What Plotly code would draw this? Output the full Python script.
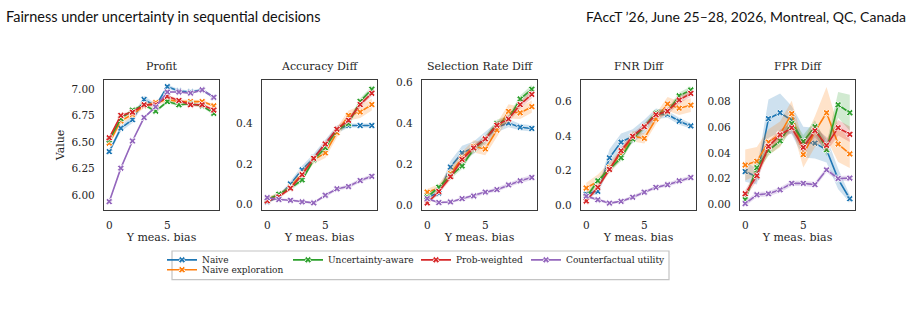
import plotly.graph_objects as go

W, H = 913, 314

X = list(range(10))
SERIES = ["Naive", "Naive exploration", "Uncertainty-aware", "Prob-weighted", "Counterfactual utility"]
COLORS = ["#1f77b4", "#ff7f0e", "#2ca02c", "#d62728", "#9467bd"]
FILLS = ["rgba(31,119,180,0.22)", "rgba(255,127,14,0.22)", "rgba(44,160,44,0.22)",
         "rgba(214,39,40,0.22)", "rgba(148,103,189,0.22)"]
PANEL_TITLES = ["Profit", "Accuracy Diff", "Selection Rate Diff", "FNR Diff", "FPR Diff"]

# ---- Profit ----
PROFIT = [
    [6.41, 6.63, 6.71, 6.90, 6.84, 7.02, 6.98, 6.97, 6.99, 6.92],
    [6.49, 6.70, 6.76, 6.84, 6.87, 6.90, 6.88, 6.88, 6.88, 6.84],
    [6.52, 6.72, 6.80, 6.85, 6.79, 6.88, 6.85, 6.86, 6.84, 6.77],
    [6.54, 6.75, 6.78, 6.85, 6.85, 6.93, 6.89, 6.85, 6.85, 6.80],
    [5.94, 6.255, 6.51, 6.73, 6.83, 6.97, 6.97, 6.96, 6.99, 6.92],
]
PROFIT_CI = [
    [0.02, 0.03, 0.03, 0.035, 0.02, 0.02, 0.015, 0.015, 0.015, 0.015],
    [0.02, 0.03, 0.03, 0.02, 0.02, 0.025, 0.02, 0.015, 0.015, 0.015],
    [0.015, 0.015, 0.015, 0.015, 0.015, 0.015, 0.015, 0.015, 0.015, 0.015],
    [0.015, 0.015, 0.015, 0.015, 0.015, 0.015, 0.015, 0.015, 0.015, 0.015],
    [0.01, 0.01, 0.01, 0.01, 0.01, 0.01, 0.01, 0.01, 0.01, 0.01],
]
# ---- Accuracy Diff ----
ACC = [
    [0.011, 0.036, 0.10, 0.17, 0.23, 0.30, 0.37, 0.39, 0.39, 0.39],
    [0.028, 0.044, 0.084, 0.15, 0.22, 0.254, 0.355, 0.44, 0.457, 0.494],
    [0.020, 0.049, 0.079, 0.12, 0.22, 0.28, 0.37, 0.40, 0.51, 0.57],
    [0.016, 0.036, 0.079, 0.146, 0.227, 0.298, 0.372, 0.416, 0.494, 0.55],
    [0.032, 0.023, 0.019, 0.011, 0.006, 0.044, 0.076, 0.087, 0.117, 0.138],
]
ACC_CI = [
    [0.005, 0.01, 0.015, 0.02, 0.02, 0.02, 0.02, 0.01, 0.01, 0.01],
    [0.01, 0.01, 0.015, 0.02, 0.02, 0.025, 0.025, 0.025, 0.03, 0.03],
    [0.01, 0.01, 0.01, 0.012, 0.012, 0.015, 0.015, 0.015, 0.015, 0.015],
    [0.01, 0.01, 0.01, 0.012, 0.012, 0.015, 0.015, 0.015, 0.015, 0.015],
    [0.006, 0.006, 0.006, 0.006, 0.006, 0.008, 0.008, 0.01, 0.01, 0.01],
]
# ---- Selection Rate Diff ----
SEL = [
    [0.040, 0.059, 0.186, 0.255, 0.28, 0.326, 0.38, 0.40, 0.38, 0.374],
    [0.064, 0.083, 0.154, 0.23, 0.287, 0.274, 0.366, 0.457, 0.45, 0.48],
    [0.040, 0.088, 0.143, 0.191, 0.274, 0.323, 0.398, 0.42, 0.517, 0.565],
    [0.011, 0.067, 0.139, 0.223, 0.279, 0.323, 0.39, 0.42, 0.49, 0.54],
    [0.032, 0.013, 0.016, 0.032, 0.045, 0.064, 0.076, 0.099, 0.119, 0.135],
]
SEL_CI = [
    [0.01, 0.015, 0.03, 0.035, 0.03, 0.03, 0.025, 0.02, 0.015, 0.015],
    [0.015, 0.02, 0.03, 0.03, 0.03, 0.03, 0.035, 0.035, 0.03, 0.03],
    [0.01, 0.012, 0.015, 0.015, 0.015, 0.015, 0.018, 0.018, 0.018, 0.02],
    [0.01, 0.012, 0.015, 0.015, 0.015, 0.015, 0.018, 0.018, 0.018, 0.02],
    [0.006, 0.006, 0.006, 0.007, 0.008, 0.008, 0.01, 0.01, 0.012, 0.012],
]
# ---- FNR Diff ----
FNR = [
    [0.066, 0.081, 0.275, 0.366, 0.40, 0.455, 0.53, 0.527, 0.487, 0.46],
    [0.100, 0.138, 0.218, 0.294, 0.40, 0.388, 0.50, 0.587, 0.5625, 0.58],
    [0.047, 0.142, 0.208, 0.275, 0.384, 0.455, 0.534, 0.54, 0.634, 0.668],
    [0.025, 0.104, 0.208, 0.316, 0.40, 0.455, 0.525, 0.545, 0.61, 0.648],
    [0.053, 0.032, 0.013, 0.023, 0.047, 0.076, 0.104, 0.119, 0.142, 0.161],
]
FNR_CI = [
    [0.01, 0.02, 0.05, 0.05, 0.04, 0.04, 0.03, 0.02, 0.02, 0.015],
    [0.03, 0.04, 0.03, 0.03, 0.03, 0.03, 0.03, 0.04, 0.04, 0.04],
    [0.015, 0.015, 0.015, 0.018, 0.018, 0.018, 0.02, 0.02, 0.02, 0.02],
    [0.015, 0.015, 0.015, 0.018, 0.018, 0.018, 0.02, 0.02, 0.02, 0.02],
    [0.008, 0.008, 0.008, 0.008, 0.01, 0.01, 0.01, 0.012, 0.012, 0.012],
]
# ---- FPR Diff ----
FPR = [
    [0.0255, 0.0214, 0.0667, 0.0713, 0.0655, 0.0484, 0.0476, 0.0425, 0.0196, 0.0043],
    [0.0306, 0.0336, 0.0484, 0.0545, 0.0706, 0.0387, 0.0566, 0.0713, 0.0469, 0.0392],
    [0.0036, 0.0285, 0.0418, 0.0494, 0.0629, 0.0490, 0.0604, 0.0425, 0.0775, 0.0713],
    [0.0082, 0.0222, 0.0451, 0.0540, 0.0596, 0.0443, 0.0573, 0.0459, 0.0596, 0.0545],
    [0.0005, 0.0074, 0.0082, 0.0112, 0.0163, 0.0163, 0.0153, 0.0268, 0.0201, 0.0204],
]
FPR_CI = [
    [0.008, 0.006, 0.015, 0.015, 0.011, 0.012, 0.012, 0.01, 0.008, 0.003],
    [0.012, 0.011, 0.01, 0.01, 0.01, 0.01, 0.012, 0.02, 0.014, 0.011],
    [0.003, 0.004, 0.004, 0.004, 0.005, 0.005, 0.005, 0.005, 0.01, 0.014],
    [0.003, 0.004, 0.004, 0.004, 0.004, 0.004, 0.005, 0.005, 0.006, 0.006],
    [0.002, 0.002, 0.002, 0.002, 0.002, 0.002, 0.002, 0.002, 0.002, 0.002],
]

PANEL_DATA = [(PROFIT, PROFIT_CI), (ACC, ACC_CI), (SEL, SEL_CI), (FNR, FNR_CI), (FPR, FPR_CI)]
Y_RANGES = [[5.86, 7.085], [-0.03, 0.617], [-0.024, 0.611], [-0.028, 0.727], [-0.0046, 0.097]]
Y_TICKS = [
    [6.00, 6.25, 6.50, 6.75, 7.00],
    [0.0, 0.2, 0.4],
    [0.0, 0.2, 0.4, 0.6],
    [0.0, 0.2, 0.4, 0.6],
    [0.00, 0.02, 0.04, 0.06, 0.08],
]
Y_TICKFMT = [".2f", ".1f", ".1f", ".1f", ".2f"]
X_TICKS = [0, 5]

# ---- layout geometry (pixels) ----
PANEL_LEFT = [104, 262, 422, 581, 740]
PANEL_W = 115
PLOT_TOP, PLOT_BOTTOM = 77, 209.5


def fx(p):
    return p / W


def fy(p):
    return 1 - p / H


SERIF = "DejaVu Serif"
TXT = "#262626"

fig = go.Figure()

LEGEND_IDS = ["legend", "legend5", "legend2", "legend3", "legend4"]

for k, (means, cis) in enumerate(PANEL_DATA):
    xa = "x" if k == 0 else f"x{k+1}"
    ya = "y" if k == 0 else f"y{k+1}"
    for s, name in enumerate(SERIES):
        m = means[s]
        c = cis[s]
        upper = [a + b for a, b in zip(m, c)]
        lower = [a - b for a, b in zip(m, c)]
        fig.add_trace(go.Scatter(
            x=X + X[::-1], y=upper + lower[::-1], fill="toself",
            fillcolor=FILLS[s], line=dict(width=0), mode="lines",
            hoverinfo="skip", showlegend=False, xaxis=xa, yaxis=ya))
        fig.add_trace(go.Scatter(
            x=X, y=m, mode="lines+markers", name=name,
            line=dict(color=COLORS[s], width=1.6),
            marker=dict(symbol="x", size=6, color=COLORS[s],
                        line=dict(color="white", width=0.9)),
            showlegend=(k == 0), legend=LEGEND_IDS[s],
            xaxis=xa, yaxis=ya))

layout = dict(
    width=W, height=H,
    margin=dict(l=0, r=0, t=0, b=0),
    paper_bgcolor="white", plot_bgcolor="white",
    font=dict(family=SERIF, size=10, color=TXT),
    annotations=[],
)

for k in range(5):
    xkey = "xaxis" if k == 0 else f"xaxis{k+1}"
    ykey = "yaxis" if k == 0 else f"yaxis{k+1}"
    xa = "x" if k == 0 else f"x{k+1}"
    ya = "y" if k == 0 else f"y{k+1}"
    left = PANEL_LEFT[k]
    layout[xkey] = dict(
        domain=[fx(left), fx(left + PANEL_W)], anchor=ya,
        range=[-0.45, 9.45], tickvals=X_TICKS, ticks="",
        showgrid=False, zeroline=False, showline=True, mirror=True,
        linecolor="#3a3a3a", linewidth=1.2,
        tickfont=dict(family=SERIF, size=10.5, color=TXT),
        ticklabelstandoff=5,
        title=dict(text="Y meas. bias", font=dict(family=SERIF, size=11, color=TXT), standoff=2),
    )
    layout[ykey] = dict(
        domain=[fy(PLOT_BOTTOM), fy(PLOT_TOP)], anchor=xa,
        range=Y_RANGES[k], tickvals=Y_TICKS[k], tickformat=Y_TICKFMT[k], ticks="",
        showgrid=False, zeroline=False, showline=True, mirror=True,
        linecolor="#3a3a3a", linewidth=1.2,
        tickfont=dict(family=SERIF, size=10.5, color=TXT),
        ticklabelstandoff=6,
    )
    if k == 0:
        layout[ykey]["title"] = dict(text="Value", font=dict(family=SERIF, size=11, color=TXT), standoff=4)
    layout["annotations"].append(dict(
        text=PANEL_TITLES[k], x=fx(left + PANEL_W / 2), y=fy(64),
        xref="paper", yref="paper", xanchor="center", yanchor="middle",
        showarrow=False, font=dict(family=SERIF, size=11, color=TXT)))

# header texts
HEADER_LEFT = "Fairness under uncertainty in sequential decisions"
HEADER_RIGHT = "FAccT \u201926, June 25\u201328, 2026, Montreal, QC, Canada"
layout["annotations"].append(dict(
    text=HEADER_LEFT, x=fx(4), y=fy(13), xref="paper", yref="paper",
    xanchor="left", yanchor="middle", showarrow=False,
    font=dict(family="Lato", size=14.5, color="#111")))
layout["annotations"].append(dict(
    text=HEADER_RIGHT, x=fx(908), y=fy(13), xref="paper", yref="paper",
    xanchor="right", yanchor="middle", showarrow=False,
    font=dict(family="Lato", size=14, color="#111")))

LEG_POS = {
    "legend": (162, 260),
    "legend5": (162, 270),
    "legend2": (288, 260),
    "legend3": (416, 260),
    "legend4": (526, 260),
}
for lid, (px, py) in LEG_POS.items():
    layout[lid] = dict(
        x=fx(px), y=fy(py), xanchor="left", yanchor="middle",
        xref="paper", yref="paper",
        bgcolor="rgba(0,0,0,0)", borderwidth=0,
        font=dict(family=SERIF, size=9, color=TXT),
        itemwidth=30, tracegroupgap=0,
    )

fig.update_layout(**layout)

# legend frame
L0, L1, T0, T1 = 172, 669, 251, 280
fig.add_shape(
    type="rect", xref="paper", yref="paper", layer="above",
    x0=fx(L0), x1=fx(L1), y0=fy(T1), y1=fy(T0),
    line=dict(color="#c4c4c4", width=1.2), fillcolor="rgba(0,0,0,0)")

fig.write_html("out.html")
